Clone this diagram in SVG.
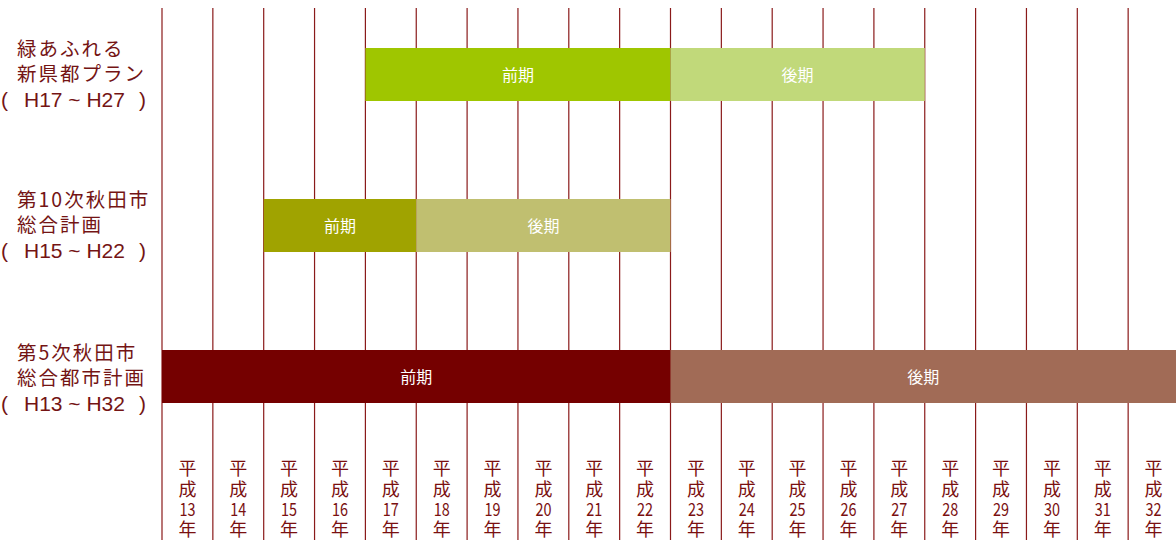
<svg xmlns="http://www.w3.org/2000/svg" width="1176" height="540" viewBox="0 0 1176 540">
<style>
.grid line{stroke:#8a1a1a;stroke-width:1.2}
.lbl{font-family:"Noto Sans CJK JP","Liberation Sans",sans-serif;font-size:19.5px;fill:#741414;letter-spacing:2px}
.par{font-family:"Liberation Sans","Noto Sans CJK JP",sans-serif;font-size:21px;fill:#741414}
.bar{font-family:"Noto Sans CJK JP","Liberation Sans",sans-serif;font-size:16px;fill:#ffffff;text-anchor:middle}
.yr{font-family:"Noto Sans CJK JP","Liberation Sans",sans-serif;font-size:18px;fill:#7a1010;text-anchor:middle}
</style>
<rect width="1176" height="540" fill="#ffffff"/>
<g id="connectors" class="grid">
<line x1="162" y1="8" x2="162" y2="540"/>
<line x1="212.85" y1="8" x2="212.85" y2="540"/>
<line x1="263.7" y1="8" x2="263.7" y2="540"/>
<line x1="314.55" y1="8" x2="314.55" y2="540"/>
<line x1="365.4" y1="8" x2="365.4" y2="540"/>
<line x1="416.25" y1="8" x2="416.25" y2="540"/>
<line x1="467.1" y1="8" x2="467.1" y2="540"/>
<line x1="517.95" y1="8" x2="517.95" y2="540"/>
<line x1="568.8" y1="8" x2="568.8" y2="540"/>
<line x1="619.65" y1="8" x2="619.65" y2="540"/>
<line x1="670.5" y1="8" x2="670.5" y2="540"/>
<line x1="721.35" y1="8" x2="721.35" y2="540"/>
<line x1="772.2" y1="8" x2="772.2" y2="540"/>
<line x1="823.05" y1="8" x2="823.05" y2="540"/>
<line x1="873.9" y1="8" x2="873.9" y2="540"/>
<line x1="924.75" y1="8" x2="924.75" y2="540"/>
<line x1="975.6" y1="8" x2="975.6" y2="540"/>
<line x1="1026.45" y1="8" x2="1026.45" y2="540"/>
<line x1="1077.3" y1="8" x2="1077.3" y2="540"/>
<line x1="1128.15" y1="8" x2="1128.15" y2="540"/>
</g>
<g id="plan1">
<rect x="365.4" y="48" width="305.1" height="53" fill="#9fc600"/>
<rect x="670.5" y="48" width="254.25" height="53" fill="#c1d97a"/>
<text class="bar" x="518" y="81">前期</text>
<text class="bar" x="797.6" y="81">後期</text>
<text class="lbl" x="17" y="56">緑あふれる</text>
<text class="lbl" x="17" y="81">新県都プラン</text>
<text class="par" y="107" xml:space="preserve"><tspan x="1">(</tspan><tspan x="24">H17 ~ H27</tspan><tspan x="139">)</tspan></text>
</g>
<g id="plan2">
<rect x="263.7" y="199" width="152.55" height="53" fill="#a0a300"/>
<rect x="416.25" y="199" width="254.25" height="53" fill="#c0bf70"/>
<text class="bar" x="340" y="232">前期</text>
<text class="bar" x="543.4" y="232">後期</text>
<text class="lbl" x="17" y="207">第10次秋田市</text>
<text class="lbl" x="17" y="232">総合計画</text>
<text class="par" y="258" xml:space="preserve"><tspan x="1">(</tspan><tspan x="24">H15 ~ H22</tspan><tspan x="139">)</tspan></text>
</g>
<g id="plan3">
<rect x="162" y="350" width="508.5" height="53" fill="#750000"/>
<rect x="670.5" y="350" width="505.5" height="53" fill="#a16b56"/>
<text class="bar" x="416.25" y="383">前期</text>
<text class="bar" x="923.3" y="383">後期</text>
<text class="lbl" x="17" y="360">第5次秋田市</text>
<text class="lbl" x="17" y="385">総合都市計画</text>
<text class="par" y="411" xml:space="preserve"><tspan x="1">(</tspan><tspan x="24">H13 ~ H32</tspan><tspan x="139">)</tspan></text>
</g>
<g id="years">
<g id="y13"><text class="yr" x="187.4" y="475">平</text><text class="yr" x="187.4" y="496">成</text><text class="yr" x="187.4" y="516" textLength="16" lengthAdjust="spacingAndGlyphs">13</text><text class="yr" x="187.4" y="536">年</text></g>
<g id="y14"><text class="yr" x="238.3" y="475">平</text><text class="yr" x="238.3" y="496">成</text><text class="yr" x="238.3" y="516" textLength="16" lengthAdjust="spacingAndGlyphs">14</text><text class="yr" x="238.3" y="536">年</text></g>
<g id="y15"><text class="yr" x="289.1" y="475">平</text><text class="yr" x="289.1" y="496">成</text><text class="yr" x="289.1" y="516" textLength="16" lengthAdjust="spacingAndGlyphs">15</text><text class="yr" x="289.1" y="536">年</text></g>
<g id="y16"><text class="yr" x="340" y="475">平</text><text class="yr" x="340" y="496">成</text><text class="yr" x="340" y="516" textLength="16" lengthAdjust="spacingAndGlyphs">16</text><text class="yr" x="340" y="536">年</text></g>
<g id="y17"><text class="yr" x="390.8" y="475">平</text><text class="yr" x="390.8" y="496">成</text><text class="yr" x="390.8" y="516" textLength="16" lengthAdjust="spacingAndGlyphs">17</text><text class="yr" x="390.8" y="536">年</text></g>
<g id="y18"><text class="yr" x="441.7" y="475">平</text><text class="yr" x="441.7" y="496">成</text><text class="yr" x="441.7" y="516" textLength="16" lengthAdjust="spacingAndGlyphs">18</text><text class="yr" x="441.7" y="536">年</text></g>
<g id="y19"><text class="yr" x="492.5" y="475">平</text><text class="yr" x="492.5" y="496">成</text><text class="yr" x="492.5" y="516" textLength="16" lengthAdjust="spacingAndGlyphs">19</text><text class="yr" x="492.5" y="536">年</text></g>
<g id="y20"><text class="yr" x="543.4" y="475">平</text><text class="yr" x="543.4" y="496">成</text><text class="yr" x="543.4" y="516" textLength="16" lengthAdjust="spacingAndGlyphs">20</text><text class="yr" x="543.4" y="536">年</text></g>
<g id="y21"><text class="yr" x="594.2" y="475">平</text><text class="yr" x="594.2" y="496">成</text><text class="yr" x="594.2" y="516" textLength="16" lengthAdjust="spacingAndGlyphs">21</text><text class="yr" x="594.2" y="536">年</text></g>
<g id="y22"><text class="yr" x="645.1" y="475">平</text><text class="yr" x="645.1" y="496">成</text><text class="yr" x="645.1" y="516" textLength="16" lengthAdjust="spacingAndGlyphs">22</text><text class="yr" x="645.1" y="536">年</text></g>
<g id="y23"><text class="yr" x="695.9" y="475">平</text><text class="yr" x="695.9" y="496">成</text><text class="yr" x="695.9" y="516" textLength="16" lengthAdjust="spacingAndGlyphs">23</text><text class="yr" x="695.9" y="536">年</text></g>
<g id="y24"><text class="yr" x="746.8" y="475">平</text><text class="yr" x="746.8" y="496">成</text><text class="yr" x="746.8" y="516" textLength="16" lengthAdjust="spacingAndGlyphs">24</text><text class="yr" x="746.8" y="536">年</text></g>
<g id="y25"><text class="yr" x="797.6" y="475">平</text><text class="yr" x="797.6" y="496">成</text><text class="yr" x="797.6" y="516" textLength="16" lengthAdjust="spacingAndGlyphs">25</text><text class="yr" x="797.6" y="536">年</text></g>
<g id="y26"><text class="yr" x="848.5" y="475">平</text><text class="yr" x="848.5" y="496">成</text><text class="yr" x="848.5" y="516" textLength="16" lengthAdjust="spacingAndGlyphs">26</text><text class="yr" x="848.5" y="536">年</text></g>
<g id="y27"><text class="yr" x="899.3" y="475">平</text><text class="yr" x="899.3" y="496">成</text><text class="yr" x="899.3" y="516" textLength="16" lengthAdjust="spacingAndGlyphs">27</text><text class="yr" x="899.3" y="536">年</text></g>
<g id="y28"><text class="yr" x="950.2" y="475">平</text><text class="yr" x="950.2" y="496">成</text><text class="yr" x="950.2" y="516" textLength="16" lengthAdjust="spacingAndGlyphs">28</text><text class="yr" x="950.2" y="536">年</text></g>
<g id="y29"><text class="yr" x="1001" y="475">平</text><text class="yr" x="1001" y="496">成</text><text class="yr" x="1001" y="516" textLength="16" lengthAdjust="spacingAndGlyphs">29</text><text class="yr" x="1001" y="536">年</text></g>
<g id="y30"><text class="yr" x="1051.9" y="475">平</text><text class="yr" x="1051.9" y="496">成</text><text class="yr" x="1051.9" y="516" textLength="16" lengthAdjust="spacingAndGlyphs">30</text><text class="yr" x="1051.9" y="536">年</text></g>
<g id="y31"><text class="yr" x="1102.7" y="475">平</text><text class="yr" x="1102.7" y="496">成</text><text class="yr" x="1102.7" y="516" textLength="16" lengthAdjust="spacingAndGlyphs">31</text><text class="yr" x="1102.7" y="536">年</text></g>
<g id="y32"><text class="yr" x="1153.6" y="475">平</text><text class="yr" x="1153.6" y="496">成</text><text class="yr" x="1153.6" y="516" textLength="16" lengthAdjust="spacingAndGlyphs">32</text><text class="yr" x="1153.6" y="536">年</text></g>
</g>
</svg>
